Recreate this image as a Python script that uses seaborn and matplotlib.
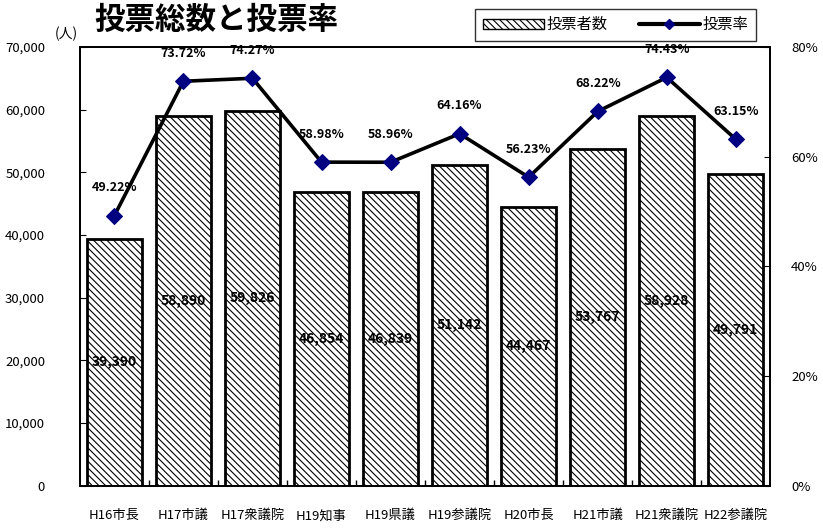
import numpy as np
import matplotlib.pyplot as plt
import seaborn as sns
from matplotlib.patches import Patch
from matplotlib.lines import Line2D
from matplotlib.ticker import FuncFormatter, MultipleLocator, FixedLocator

# Data
elections = ['H16市長', 'H17市議', 'H17衆議院', 'H19知事', 'H19県議',
             'H19参議院', 'H20市長', 'H21市議', 'H21衆議院', 'H22参議院']
voters = [39390, 58890, 59826, 46854, 46839, 51142, 44467, 53767, 58928, 49791]
turnout = [49.22, 73.72, 74.27, 58.98, 58.96, 64.16, 56.23, 68.22, 74.43, 63.15]

# Style
sns.set_style('white')
plt.rcParams['font.family'] = ['Noto Sans CJK JP', 'DejaVu Sans']
plt.rcParams['hatch.linewidth'] = 0.8
plt.rcParams['hatch.color'] = 'black'
for key in ('text.color', 'xtick.color', 'ytick.color', 'axes.labelcolor'):
    plt.rcParams[key] = 'black'

fig = plt.figure(figsize=(8.23, 5.32), dpi=100)
ax = fig.add_axes([0.097, 0.087, 0.839, 0.825])

hatch = '\\' * 5
sns.barplot(x=elections, y=voters, ax=ax, color='white', edgecolor='black',
            linewidth=2, width=0.8, hatch=hatch, saturation=1)
ax.bar_label(ax.containers[0], labels=[f'{v:,}' for v in voters],
             label_type='center', fontsize=10, fontweight='bold')

ax.set_ylim(0, 70000)
ax.yaxis.set_major_locator(MultipleLocator(10000))
ax.yaxis.set_major_formatter(FuncFormatter(lambda v, p: f'{v:,.0f}'))
ax.tick_params(axis='y', direction='in', length=4, pad=25, labelsize=9.5)
ax.tick_params(axis='x', which='major', length=0, pad=17, labelsize=9.5)
ax.xaxis.set_minor_locator(FixedLocator(np.arange(0.5, len(elections) - 1, 1)))
ax.tick_params(axis='x', which='minor', direction='in', length=4, width=1, bottom=True)
ax.set_xlabel('')
ax.set_ylabel('')

# Turnout line on secondary axis
ax2 = ax.twinx()
sns.lineplot(x=np.arange(len(elections)), y=turnout, ax=ax2, sort=False,
             color='black', linewidth=2.6, marker='D', markersize=8.5,
             markerfacecolor='#000080', markeredgecolor='#000080')
for i, r in enumerate(turnout):
    ax2.annotate(f'{r:.2f}%', (i, r), xytext=(0, 20), textcoords='offset points',
                 ha='center', va='center', fontsize=9, fontweight='bold')
ax2.set_ylim(0, 80)
ax2.yaxis.set_major_locator(MultipleLocator(20))
ax2.yaxis.set_major_formatter(FuncFormatter(lambda v, p: f'{v:.0f}%'))
ax2.tick_params(axis='y', direction='in', length=4, pad=15, labelsize=9.5)
ax2.set_ylabel('')
ax.set_xlim(-0.5, len(elections) - 0.5)

for a in (ax, ax2):
    for s in a.spines.values():
        s.set_color('black')
        s.set_linewidth(1.3)

# Title, unit and legend
fig.text(0.115, 0.962, '投票総数と投票率', fontsize=22, fontweight='bold', va='center')
fig.text(0.067, 0.937, '(人)', fontsize=10, va='center')

handles = [Patch(facecolor='white', edgecolor='black', hatch=hatch),
           Line2D([], [], color='black', linewidth=3, marker='D', markersize=5,
                  markerfacecolor='#000080', markeredgecolor='#000080')]
leg = fig.legend(handles, ['投票者数', '投票率'], ncol=2, loc='upper right',
                 bbox_to_anchor=(0.928, 0.998), frameon=True, fancybox=False,
                 edgecolor='black', fontsize=11, handlelength=4, handleheight=0.6,
                 columnspacing=2, borderpad=0.5, handletextpad=0.2)
leg.get_frame().set_linewidth(1)

fig.savefig('out.png', dpi=100)
